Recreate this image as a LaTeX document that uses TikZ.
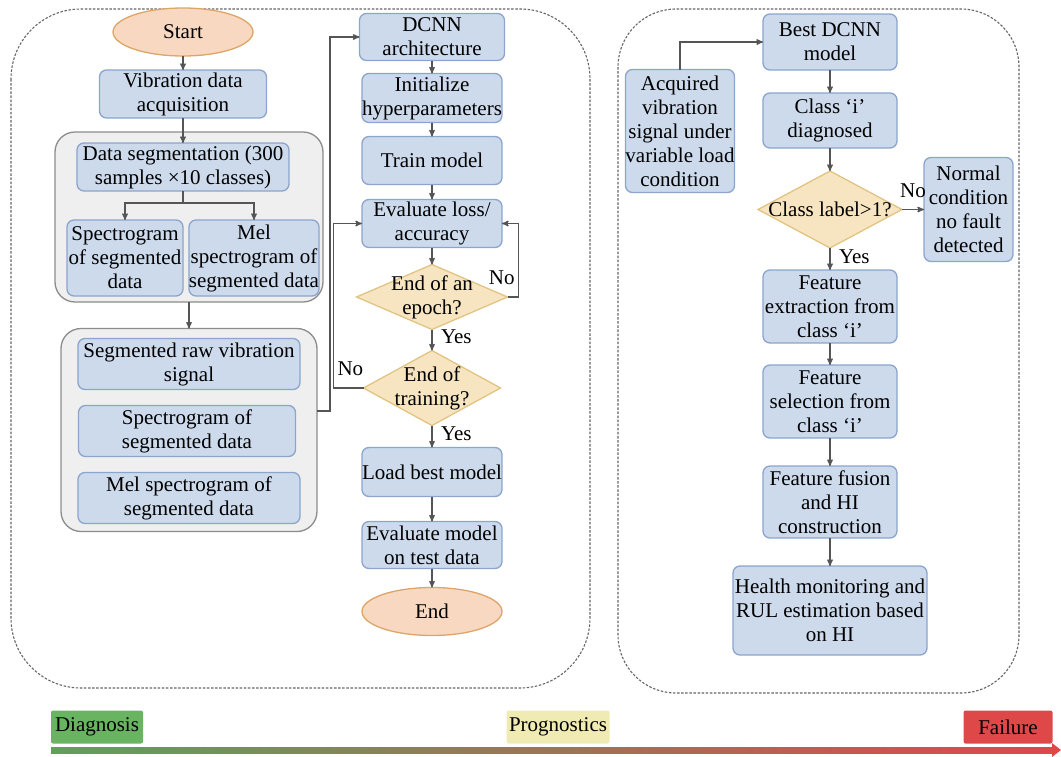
\documentclass[tikz,border=0pt]{standalone}
\usepackage{fontspec}
\setmainfont{Liberation Serif}
\usepackage{tikz}
\usetikzlibrary{arrows,positioning,shapes.geometric,calc}

\definecolor{boxfill}{RGB}{204,218,236}
\definecolor{boxline}{RGB}{140,165,205}
\definecolor{termfill}{RGB}{248,216,192}
\definecolor{termline}{RGB}{222,165,105}
\definecolor{decfill}{RGB}{246,229,192}
\definecolor{decline}{RGB}{226,196,130}
\definecolor{grpfill}{RGB}{239,239,239}
\definecolor{grpline}{RGB}{140,140,140}
\definecolor{arrowgray}{RGB}{85,85,85}
\definecolor{diagcol}{RGB}{104,180,96}
\definecolor{progcol}{RGB}{240,235,178}
\definecolor{failcol}{RGB}{222,72,72}
\definecolor{midcol}{RGB}{140,110,60}

\begin{document}
\begin{tikzpicture}[x=1pt,y=-1pt,->,>=stealth',auto,
  every node/.style={font=\fontsize{21}{24}\selectfont,align=center,inner sep=0pt,outer sep=0pt},
  proc node/.style={rectangle,rounded corners=7pt,draw=boxline,fill=boxfill,line width=1.3pt},
  term node/.style={ellipse,draw=termline,fill=termfill,line width=1.3pt,minimum width=140,minimum height=48},
  dec node/.style={diamond,draw=decline,fill=decfill,line width=1.3pt},
  grp node/.style={rectangle,rounded corners=20pt,draw=grpline,fill=grpfill,line width=1.3pt},
  tl node/.style={rectangle,rounded corners=2pt,minimum height=33},
  panel/.style={-,dashed,dash pattern=on 2.5pt off 1.6pt,draw=black!60,line width=1.1pt},
  link/.style={draw=arrowgray,line width=1.3pt},
  lbl/.style={inner sep=4pt}]
    \useasboundingbox (0,0) rectangle (1061,756);
    \draw[panel,rounded corners=70pt] (11,9) rectangle (590,688);
    \draw[panel,rounded corners=58pt] (618,9) rectangle (1019,693);

    % diagnosis
    \node[term node] (Start) at (183,32) {Start};
    \node[proc node,minimum width=167,minimum height=48] (Vib) at (183,94) {Vibration data\\acquisition};
    \node[grp node,minimum width=268,minimum height=170] (GrpA) at (189,217) {};
    \node[proc node,minimum width=212,minimum height=48] (Seg) at (183,167) {Data segmentation (300\\samples ×10 classes)};
    \node[proc node,minimum width=116,minimum height=76] (SpecA) at (125,258) {Spectrogram\\of segmented\\data};
    \node[proc node,minimum width=126,minimum height=76] (MelA) at (254,258) {Mel\\spectrogram of\\segmented data};
    \node[grp node,minimum width=256,minimum height=203] (GrpB) at (189,430) {};
    \node[proc node,minimum width=222,minimum height=51] (Raw) at (189,364) {Segmented raw vibration\\signal};
    \node[proc node,minimum width=217,minimum height=51] (SpecB) at (187,431) {Spectrogram of\\segmented data};
    \node[proc node,minimum width=222,minimum height=51] (MelB) at (189,498) {Mel spectrogram of\\segmented data};

    \node[proc node,minimum width=145,minimum height=47] (Dcnn) at (432,37) {DCNN\\architecture};
    \node[proc node,minimum width=140,minimum height=49,below=13pt of Dcnn] (Init) {Initialize\\hyperparameters};
    \node[proc node,minimum width=140,minimum height=48,below=14pt of Init] (Train) {Train model};
    \node[proc node,minimum width=140,minimum height=48,below=15pt of Train] (Eval) {Evaluate loss/\\accuracy};
    \node[dec node,minimum width=151,minimum height=65,below=17pt of Eval,
      label={center:End of an\\epoch?}] (Epoch) {};
    \node[dec node,minimum width=137,minimum height=75,below=21pt of Epoch,
      label={center:End of\\training?}] (Trn) {};
    \node[proc node,minimum width=140,minimum height=49,below=22pt of Trn] (Load) {Load best model};
    \node[proc node,minimum width=140,minimum height=47,below=25pt of Load] (Test) {Evaluate model\\on test data};
    \node[term node,below=19pt of Test] (End) {End};

    % prognostics
    \node[proc node,minimum width=134,minimum height=56] (Best) at (830,42) {Best DCNN\\model};
    \node[proc node,minimum width=106,minimum height=123] (Acq) at (680,131) {Acquired\\vibration\\signal under\\variable load\\condition};
    \node[proc node,minimum width=134,minimum height=55,below=23pt of Best] (ClsI) {Class `i'\\diagnosed};
    \node[dec node,minimum width=144,minimum height=77,below=23pt of ClsI,
      label={center:Class label>1?}] (Lbl) {};
    \node[proc node,minimum width=89,minimum height=104,right=22pt of Lbl] (Norm) {Normal\\condition\\no fault\\detected};
    \node[proc node,minimum width=134,minimum height=73,below=22pt of Lbl] (FExt) {Feature\\extraction from\\class `i'};
    \node[proc node,minimum width=134,minimum height=73,below=22pt of FExt] (FSel) {Feature\\selection from\\class `i'};
    \node[proc node,minimum width=134,minimum height=72,below=28pt of FSel] (FFus) {Feature fusion\\and HI\\construction};
    \node[proc node,minimum width=194,minimum height=89,below=28pt of FFus] (Health) {Health monitoring and\\RUL estimation based\\on HI};

    \draw[link] (Start) -- (Vib);
    \draw[link] (Vib) -- (Seg);
    \draw[link] (Seg.south) -- ++(0,12) coordinate (Split) -| (SpecA);
    \draw[link] (Split) -| (MelA);
    \draw[link] (GrpA) -- (GrpB);
    \draw[link] ($(GrpB.east)+(0,-19)$) -- ++(13,0) |- (Dcnn);
    \path[link] (Dcnn) edge (Init)
          (Init) edge (Train)
          (Train) edge (Eval)
          (Eval) edge (Epoch)
          (Epoch) edge node[lbl,xshift=5pt,yshift=3pt] {Yes} (Trn)
          (Trn) edge node[lbl,xshift=5pt,yshift=3pt] {Yes} (Load)
          (Load) edge (Test)
          (Test) edge (End)
    ;
    \draw[link] (Epoch.east) -- ++(11,0) node[lbl,above left,yshift=8pt] {No} |- (Eval);
    \draw[link] (Trn.west) -- ++(-30,0) node[lbl,above right,yshift=8pt] {No} |- (Eval);

    \draw[link] (Acq) |- (Best);
    \path[link] (Best) edge (ClsI)
          (ClsI) edge (Lbl)
          (Lbl) edge node[lbl,yshift=8pt] {No} (Norm)
          (Lbl) edge node[lbl,xshift=5pt,yshift=2pt] {Yes} (FExt)
          (FExt) edge (FSel)
          (FSel) edge (FFus)
          (FFus) edge (Health)
    ;

    % time line
    \shade[left color=diagcol!90!black,middle color=midcol,right color=failcol] (51,747) rectangle (1054,753);
    \fill[failcol] (1052,743) -- (1061,750) -- (1052,757) -- cycle;
    \node[tl node,fill=diagcol,minimum width=92] (Diag) at (97,727) {Diagnosis};
    \node[tl node,fill=progcol,minimum width=103] (Prog) at (558,727) {Prognostics};
    \node[tl node,fill=failcol,minimum width=89] (Fail) at (1008,727) {Failure};
\end{tikzpicture}
\end{document}
